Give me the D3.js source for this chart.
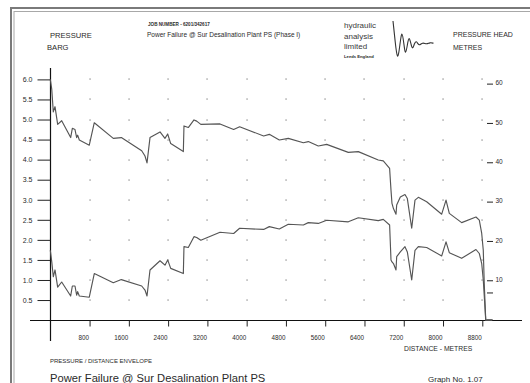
<!DOCTYPE html>
<html><head><meta charset="utf-8">
<script src="https://cdn.jsdelivr.net/npm/d3@7"></script>
<style>html,body{margin:0;padding:0;background:#fff;}svg{display:block;font-family:"Liberation Sans",Arial,sans-serif;}</style>
</head><body>
<script>
// ---- data ----
const distance = [0,30,61,96,150,232,415,449,503,537,557,591,794,896,1283,1447,1862,1929,1970,2031,2235,2336,2391,2453,2710,2723,2811,2927,2982,3066,3457,3735,3857,4346,4461,4665,4848,5155,5256,5459,5630,6070,6274,6681,6783,6912,6940,6960,6990,7042,7056,7130,7225,7273,7362,7429,7497,7667,7973,8061,8128,8380,8671,8739,8788,8820,8840,8870,9000];
const maxPressure = [6.0,5.75,5.19,5.32,4.88,4.97,4.55,4.78,4.75,4.55,4.61,4.49,4.36,4.92,4.53,4.55,4.22,4.09,3.92,4.55,4.69,4.53,4.64,4.40,4.20,4.84,4.80,4.99,4.96,4.88,4.89,4.75,4.82,4.59,4.63,4.49,4.53,4.42,4.45,4.34,4.38,4.18,4.20,3.99,3.97,3.78,3.24,2.91,2.78,2.64,2.87,3.07,3.13,3.03,2.29,2.99,3.06,2.95,2.64,2.99,2.66,2.43,2.57,2.49,2.16,1.74,0.9,0,0];
const minPressure = [1.74,1.45,1.08,1.25,0.82,0.95,0.60,0.85,0.85,0.62,0.71,0.60,0.57,1.16,0.93,1.01,0.85,0.75,0.60,1.25,1.48,1.37,1.50,1.29,1.16,1.83,1.81,2.08,2.06,1.99,2.19,2.16,2.29,2.26,2.33,2.27,2.39,2.37,2.43,2.41,2.49,2.45,2.55,2.48,2.51,2.37,1.50,1.45,1.41,1.25,1.58,1.70,1.83,1.70,1.00,1.74,1.83,1.81,1.60,1.95,1.68,1.54,1.76,1.66,1.41,1.00,0.6,0,0];
const xTicks = [800,1600,2400,3200,4000,4800,5600,6400,7200,8000,8800];
const yTicks = [0.5,1.0,1.5,2.0,2.5,3.0,3.5,4.0,4.5,5.0,5.5,6.0];
const headTicks = [60,50,40,30,20,10];
const headExtraTicks = [6.9,0];
const logoWave = [[393,21],[395,40],[397.5,63],[400,44],[402,29],[404,45],[405.5,56],[407.5,44],[409,36],[411,44],[412.5,50],[414.5,43],[416.5,40.5],[419,46.5],[422.5,42],[426.5,44.5],[430,42.3],[433.5,43.3]];

// ---- chart ----
const W = 530, H = 383;
const svg = d3.select("body").append("svg").attr("width", W).attr("height", H);
const x = d3.scaleLinear().domain([0, 8800]).range([50.3, 482.3]);
const y = d3.scaleLinear().domain([0, 6]).range([320.1, 79.4]);
const yHead = d3.scaleLinear().domain([0, 61.2]).range([320.1, 79.4]);
const txt = "#2a2a2a";

// border
svg.append("rect").attr("x", 11).attr("y", 8).attr("width", 600).attr("height", 500)
  .attr("fill", "none").attr("stroke", "#7a7a7a").attr("stroke-width", 2);
svg.append("rect").attr("x", 14).attr("y", 11.5).attr("width", 600).attr("height", 500)
  .attr("fill", "none").attr("stroke", "#a8a8a8").attr("stroke-width", 1);

// grid dots
const g = svg.append("g");
xTicks.forEach(xt => yTicks.forEach(yt => {
  g.append("rect").attr("x", Math.round(x(xt)) - 0.5).attr("y", Math.round(y(yt)) - 0.5)
    .attr("width", 1.1).attr("height", 1.1).attr("fill", "#666");
}));

// axes lines
svg.append("line").attr("x1", 30).attr("x2", 522).attr("y1", 320.5).attr("y2", 320.5).attr("stroke", "#111").attr("stroke-width", 1.2);
svg.append("line").attr("x1", 50.5).attr("x2", 50.5).attr("y1", 68).attr("y2", 341).attr("stroke", "#111").attr("stroke-width", 1.2);

// left axis
const ax = svg.append("g").attr("transform", "translate(50.5,0)")
  .call(d3.axisLeft(y).tickValues(yTicks).tickSize(13).tickPadding(5).tickFormat(d3.format(".1f")));
ax.select(".domain").remove();
ax.selectAll("line").attr("stroke", "#222");
ax.selectAll("text").attr("font-size", 7).attr("fill", txt).attr("font-family", "Liberation Sans, Arial");

// bottom axis
const bx = svg.append("g").attr("transform", "translate(0,320.5)")
  .call(d3.axisBottom(x).tickValues(xTicks).tickSize(6).tickPadding(9).tickFormat(d3.format("d")));
bx.select(".domain").remove();
bx.selectAll("line").attr("stroke", "#222");
bx.selectAll("text").attr("font-size", 6.3).attr("fill", txt).attr("text-anchor", "end").attr("dx", "-1")
  .attr("font-family", "Liberation Sans, Arial");

// right head axis
const rx = svg.append("g");
headTicks.concat(headExtraTicks).forEach(h => {
  rx.append("line").attr("x1", 487).attr("x2", 493).attr("y1", yHead(h)).attr("y2", yHead(h))
    .attr("stroke", "#222").attr("stroke-width", 1);
});
rx.selectAll("text").data(headTicks).enter().append("text")
  .attr("x", 495.5).attr("y", d => yHead(d) - 1).attr("dy", "0.35em")
  .attr("font-size", 6.5).attr("fill", txt).text(d => d);

// curves
const line = d3.line().x(d => x(d[0])).y(d => y(d[1]));
[maxPressure, minPressure].forEach(series => {
  svg.append("path").datum(distance.map((d, i) => [d, series[i]]))
    .attr("d", line).attr("fill", "none").attr("stroke", "#555").attr("stroke-width", 1.15)
    .attr("stroke-linejoin", "round");
});

// texts
function t(xp, yp, s, size, opts = {}) {
  const e = svg.append("text").attr("x", xp).attr("y", yp).attr("font-size", size).attr("fill", opts.fill || txt).text(s);
  if (opts.weight) e.attr("font-weight", opts.weight);
  if (opts.anchor) e.attr("text-anchor", opts.anchor);
  return e;
}
t(50, 38, "PRESSURE", 7.6);
t(47, 50, "BARG", 7.6);
t(148, 25.5, "JOB NUMBER - 6201/342617", 4.6, {weight: "bold"});
t(147, 36.5, "Power Failure @ Sur Desalination Plant PS (Phase I)", 6.5);
t(344, 28, "hydraulic", 8, {fill: "#3a3a3a"});
t(344, 38.5, "analysis", 8, {fill: "#3a3a3a"});
t(344, 49, "limited", 8, {fill: "#3a3a3a"});
t(344, 58, "Leeds England", 4.2, {weight: "bold"});
t(453, 37, "PRESSURE HEAD", 7);
t(453, 50, "METRES", 7);
t(404, 350.5, "DISTANCE - METRES", 6.8);
t(50, 363, "PRESSURE / DISTANCE ENVELOPE", 6);
t(50, 381.5, "Power Failure @ Sur Desalination Plant PS", 11.2);
t(428, 382, "Graph No. 1.07", 8);

// logo wave
svg.append("path").datum(logoWave)
  .attr("d", d3.line().curve(d3.curveBasis))
  .attr("fill", "none").attr("stroke", "#333").attr("stroke-width", 1.1);
</script>
</body></html>
